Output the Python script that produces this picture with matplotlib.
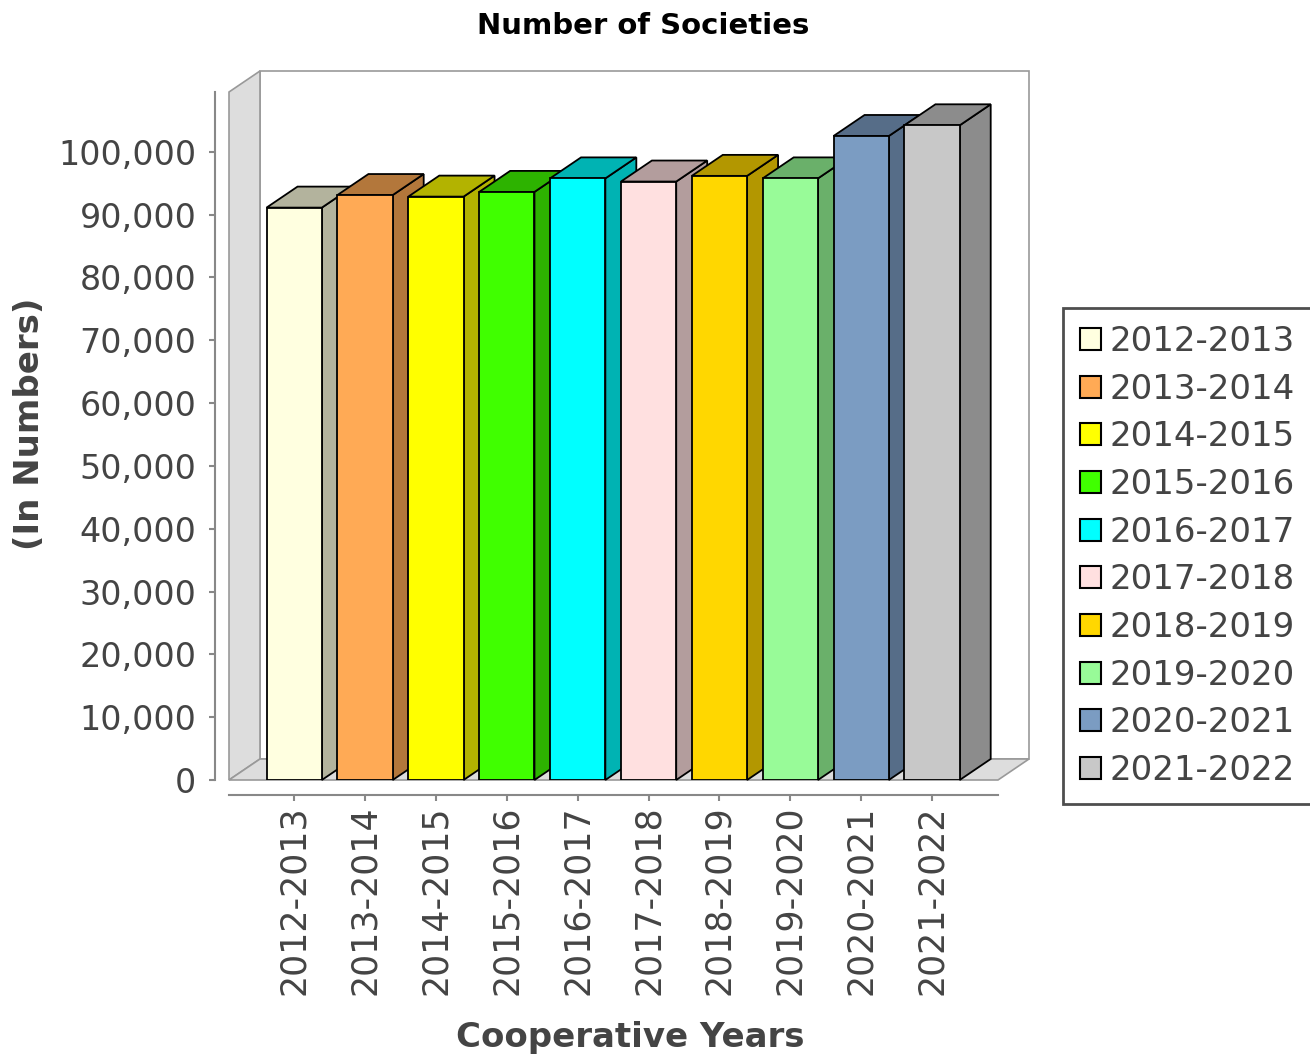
import numpy as np
import matplotlib.pyplot as plt
from matplotlib.patches import Polygon, Patch
from matplotlib.ticker import FuncFormatter

# data
years = ["2012-2013", "2013-2014", "2014-2015", "2015-2016", "2016-2017",
         "2017-2018", "2018-2019", "2019-2020", "2020-2021", "2021-2022"]
societies = [91100, 93100, 92850, 93600, 95750, 95250, 96150, 95750, 102500, 104200]
colors = ["#FFFFE0", "#FFAA55", "#FFFF00", "#40FF00", "#00FFFF",
          "#FFE0E0", "#FFD700", "#98FB98", "#7B9CC2", "#C8C8C8"]

y_max = 109500
x_lo, x_hi = -0.92, 9.93
bar_w = 0.78
dx, dy = 0.437, 3342   # 3d depth offset in data units

fig = plt.figure(figsize=(13.1, 10.59), dpi=100)
ax = fig.add_axes([229 / 1310, 279 / 1059, 769 / 1310, 688 / 1059])
ax.set_xlim(x_lo, x_hi)
ax.set_ylim(0, y_max)
ax.set_facecolor("none")

wall = "#DDDDDD"
edge = "#999999"
# back wall, left wall, floor
ax.add_patch(Polygon([(x_lo + dx, dy), (x_hi + dx, dy), (x_hi + dx, y_max + dy), (x_lo + dx, y_max + dy)],
                     closed=True, fc="white", ec=edge, lw=1.2, clip_on=False, zorder=0))
ax.add_patch(Polygon([(x_lo, 0), (x_lo + dx, dy), (x_lo + dx, y_max + dy), (x_lo, y_max)],
                     closed=True, fc=wall, ec=edge, lw=1.2, clip_on=False, zorder=0.5))
ax.add_patch(Polygon([(x_lo, 0), (x_lo + dx, dy), (x_hi + dx, dy), (x_hi, 0)],
                     closed=True, fc=wall, ec=edge, lw=1.2, clip_on=False, zorder=0.5))


def darker(c):
    r, g, b = [int(c[i:i + 2], 16) for i in (1, 3, 5)]
    return (r * 0.7 / 255, g * 0.7 / 255, b * 0.7 / 255)


x = np.arange(len(years))
for i, (v, c) in enumerate(zip(societies, colors)):
    l, r = x[i] - bar_w / 2, x[i] + bar_w / 2
    z = 2 + i * 3
    # side
    ax.add_patch(Polygon([(r, 0), (r + dx, dy), (r + dx, v + dy), (r, v)], closed=True,
                         fc=darker(c), ec="black", lw=1.3, clip_on=False, zorder=z))
    # top
    ax.add_patch(Polygon([(l, v), (l + dx, v + dy), (r + dx, v + dy), (r, v)], closed=True,
                         fc=darker(c), ec="black", lw=1.3, clip_on=False, zorder=z))
    # front
    ax.bar(x[i], v, width=bar_w, color=c, edgecolor="black", linewidth=1.3, zorder=z + 1)

# axes
for s in ["top", "right"]:
    ax.spines[s].set_visible(False)
ax.spines["left"].set_position(("outward", 10))
ax.spines["bottom"].set_position(("outward", 11))
for s in ["left", "bottom"]:
    ax.spines[s].set_color("#888888")
    ax.spines[s].set_linewidth(1.5)

ax.set_yticks(np.arange(0, 100001, 10000))
ax.yaxis.set_major_formatter(FuncFormatter(lambda v, p: "{:,.0f}".format(v)))
ax.set_xticks(x)
ax.set_xticklabels(years, rotation=90)
ax.tick_params(axis="both", colors="#888888", labelcolor="#444444",
               length=4.5, width=1.5)
ax.tick_params(axis="y", pad=9, labelsize=24)
ax.tick_params(axis="x", pad=3, labelsize=25)

# titles
fig.text(643 / 1310, 1 - 26 / 1059, "Number of Societies", ha="center", va="center",
         fontsize=21, fontweight="bold", color="black")
fig.text(630 / 1310, 1 - 1037 / 1059, "Cooperative Years", ha="center", va="center",
         fontsize=24.5, fontweight="bold", color="#444444")
fig.text(30 / 1310, 1 - 424 / 1059, "(In Numbers)", ha="center", va="center", rotation=90,
         fontsize=24.5, fontweight="bold", color="#444444")

# legend
handles = [Patch(facecolor=c, edgecolor="black", linewidth=1.5, label=y) for y, c in zip(years, colors)]
leg = fig.legend(handles=handles, loc="center left", bbox_to_anchor=(1063 / 1310, 1 - 556 / 1059),
                 fontsize=24.5, frameon=True, fancybox=False, handlelength=0.62, handleheight=0.62,
                 handletextpad=0.25, labelspacing=0.43, borderpad=0.5, borderaxespad=0)
leg.get_frame().set_edgecolor("#222222")
leg.get_frame().set_linewidth(2)
for t in leg.get_texts():
    t.set_color("#444444")

fig.savefig("out.png", dpi=100)
